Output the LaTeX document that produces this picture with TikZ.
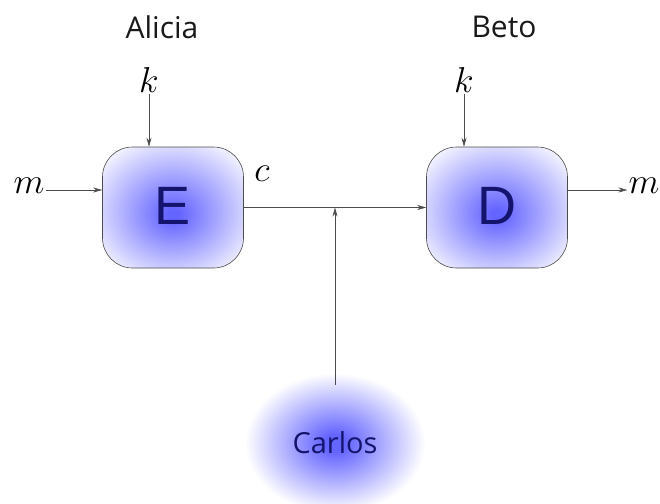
\documentclass[tikz,border=0pt]{standalone}
\usepackage{fix-cm}
\usepackage{fontspec}
\setsansfont{Liberation Sans}
\newfontfamily\namefont{Open Sans}
\usetikzlibrary{arrows.meta,shapes.geometric}

\definecolor{glowblue}{RGB}{100,100,255}
\definecolor{inkblue}{RGB}{20,20,110}
\definecolor{namecol}{RGB}{25,25,25}

% blue glows that fade to white towards the edge of the shape
\pgfdeclareradialshading{boxglow}{\pgfpoint{0bp}{-3bp}}{%
  color(0bp)=(glowblue); color(2bp)=(glowblue); color(34bp)=(white); color(50bp)=(white)}
\pgfdeclareradialshading{blobglow}{\pgfpoint{0bp}{0bp}}{%
  color(0bp)=(glowblue); color(3bp)=(glowblue); color(25bp)=(white); color(50bp)=(white)}

\tikzset{
  party/.style={font=\namefont\fontsize{30}{36}\selectfont, text=namecol, inner sep=0pt},
  var/.style={font=\fontsize{36}{40}\selectfont, inner sep=1pt},
  cipherbox/.style={draw=black!70, line width=0.6pt, rounded corners=30pt,
    minimum width=141pt, minimum height=121pt, shading=boxglow,
    font=\sffamily\fontsize{54}{60}\selectfont, text=inkblue},
  glowblob/.style={ellipse, minimum width=180pt, minimum height=140pt, shading=blobglow,
    font=\namefont\fontsize{29}{34}\selectfont, text=inkblue},
  flow/.style={draw=black!70, line width=0.6pt, -{Stealth[length=9pt,width=5pt]}},
}

\begin{document}
\begin{tikzpicture}[x=1pt,y=-1pt]
  \useasboundingbox (0,0) rectangle (660,503);

  % parties
  \node[party] (alicia) at (162,27) {Alicia};
  \node[party] (beto)   at (504,27) {Beto};

  % encryption and decryption boxes
  \node[cipherbox] (E) at (173,207.5) {\raisebox{4pt}{E}};
  \node[cipherbox] (D) at (497,207.5) {\raisebox{4pt}{D}};

  % eavesdropper
  \node[glowblob] (carlos) at (335,443) {Carlos};

  % key inputs
  \node[var] (kE) at (149,80) {$k$};
  \node[var] (kD) at (464,80) {$k$};
  \draw[flow] (kE.south) -- (kE.south |- E.north);
  \draw[flow] (kD.south) -- (kD.south |- D.north);

  % message in, ciphertext, message out
  \node[var] (min)  at (29,186) {$m$};
  \node[var] (c)    at (262,174) {$c$};
  \node[var] (mout) at (644,186) {$m$};
  \coordinate (inY) at (0,190);
  \draw[flow] (min.east |- inY) -- (E.west |- inY);
  \draw[flow] (D.east |- inY) -- (mout.west |- inY);

  \draw[flow] (E.east) -- (D.west);
  \coordinate (tap) at (335,207.5);
  \draw[flow] ([yshift=-12pt]carlos.north) -- (tap);
\end{tikzpicture}
\end{document}
